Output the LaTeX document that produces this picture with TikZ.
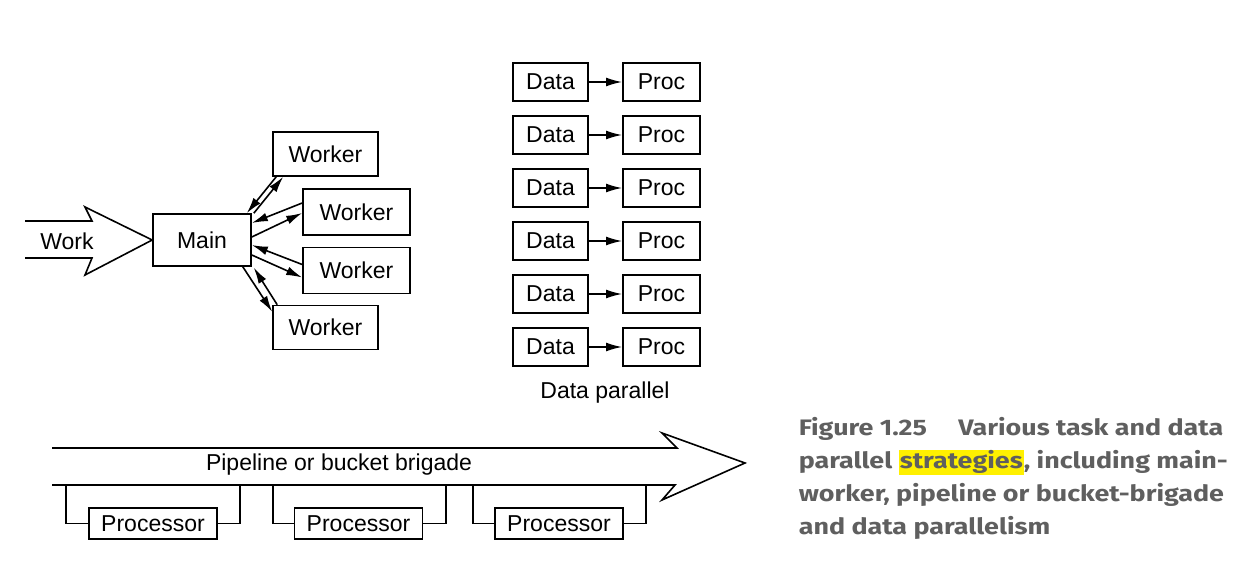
\documentclass[tikz,border=0pt]{standalone}
\usepackage{fontspec}
\setmainfont{Liberation Sans}
\newfontfamily\capfont[FakeStretch=1.2]{Fira Sans}
\usetikzlibrary{positioning,calc,arrows.meta}
\definecolor{capgray}{RGB}{95,95,95}
\definecolor{marker}{RGB}{255,240,0}

\begin{document}
\begin{tikzpicture}[x=0.5pt,y=-0.5pt,line width=0.8pt]
                        \tikzstyle{every node}=[inner sep=0,font=\fontsize{11.5}{13}\selectfont]
                        \tikzstyle{box}=[draw=black,rectangle,fill=white]
                        \tikzstyle{note}=[draw=none,fill=none]
                        \tikzstyle{worker}=[box,minimum width=52.5pt,minimum height=22pt]
                        \tikzstyle{worker2}=[box,minimum width=53.5pt,minimum height=23pt]
                        \tikzstyle{data}=[box,minimum width=37.5pt,minimum height=19pt]
                        \tikzstyle{proc}=[box,minimum width=38.5pt,minimum height=19pt]
                        \tikzstyle{stage}=[box,minimum width=64pt,minimum height=15.5pt]
                        \tikzstyle{link}=[-{Latex[length=8pt,width=4.4pt]}]
                        \useasboundingbox (0,0) rectangle (1252,583);
                        {
                            % main and workers
                            \node[box,minimum width=49pt,minimum height=26pt] (main) at (202,240) {Main};
                            \node[worker] (w1) at (325.5,154) {Worker};
                            \node[worker2] (w2) at (356.5,212) {Worker};
                            \node[worker2] (w3) at (356.5,270.5) {Worker};
                            \node[worker] (w4) at (325.5,327.5) {Worker};

                            \draw[line join=miter] (25,221) -- (92,221) -- (85,207) -- (main.west)
                                -- (85,275) -- (92,258) -- (25,258);
                            \node[note] (work) at (67,241) {Work};

                            \draw[link] ($(w1.south west)+(4,0)$) -- ($(main.north east)+(-5,0)$);
                            \draw[link] ($(main.north east)+(2,0)$) -- ($(w1.south west)+(11,0)$);
                            \draw[link] ($(w2.west)+(0,-9)$) -- ($(main.east)+(0,-17)$);
                            \draw[link] ($(main.east)+(0,-3)$) -- ($(w2.west)+(0,1)$);
                            \draw[link] ($(w3.west)+(0,-6)$) -- ($(main.east)+(0,5)$);
                            \draw[link] ($(main.east)+(0,15)$) -- ($(w3.west)+(0,7)$);
                            \draw[link] ($(main.south east)+(-9,0)$) -- ($(w4.north west)+(0,7)$);
                            \draw[link] ($(w4.north west)+(5,0)$) -- ($(main.south east)+(2,1)$);

                            % data parallel
                            \newcount\dist
                            \foreach \number in {0,1,2,3,4,5} {
                                \dist=\number
                                \multiply\dist by 53
                                \advance\dist by 82
                                \node[data] (d\number) at (550.5,\dist) {Data};
                                \node[proc] (p\number) at (661.5,\dist) {Proc};
                                \draw[link] (d\number.east) -- (p\number.west);
                            }
                            \node[note] (dp) at (605,393) {Data parallel};

                            % pipeline
                            \draw[line join=miter] (52,448) -- (677,448) -- (662,433) -- (745,463)
                                -- (662,500) -- (675,485) -- (52,485);
                            \node[note] (pipe) at (339,465) {Pipeline or bucket brigade};

                            \node[stage] (s1) at (153,523.5) {Processor};
                            \node[stage] (s2) at (358.5,523.5) {Processor};
                            \node[stage] (s3) at (559,523.5) {Processor};
                            \draw (s1.west) -| (66,485);
                            \draw (s1.east) -| (240,485);
                            \draw (s2.west) -| (273,485);
                            \draw (s2.east) -| (446,485);
                            \draw (s3.west) -| (473,485);
                            \draw (s3.east) -| (646,485);
                        }
                        \node[note,anchor=north west,align=left,text=capgray,
                              font=\capfont\bfseries\fontsize{11.2}{16.5}\selectfont] (cap) at (798,417)
                            {Figure 1.25\hspace{1.4em}Various task and data\\
                             parallel {\setlength{\fboxsep}{0.6pt}\colorbox{marker}{strategies}}, including main-\\
                             worker, pipeline or bucket-brigade\\
                             and data parallelism};
                    \end{tikzpicture}
\end{document}
